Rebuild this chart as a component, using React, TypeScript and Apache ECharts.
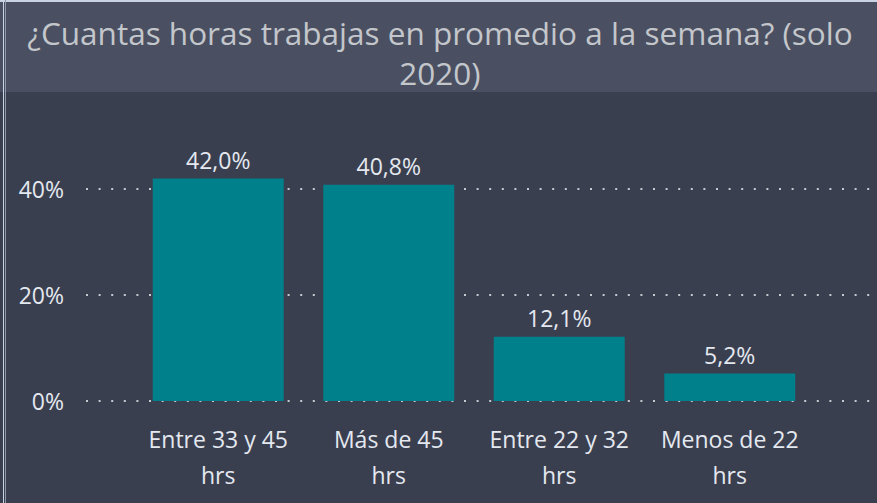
import React, { useEffect, useRef } from "react";
import * as echarts from "echarts";

const categories = ["Entre 33 y 45\nhrs", "Más de 45\nhrs", "Entre 22 y 32\nhrs", "Menos de 22\nhrs"];
const values = [42.0, 40.8, 12.1, 5.2];
const yTicks = [0, 20, 40];
const titleLines = ["¿Cuantas horas trabajas en promedio a la semana? (solo", "2020)"];

const FONT = "'Segoe UI', 'Open Sans', 'Noto Sans', sans-serif";

export default function App() {
  const ref = useRef<HTMLDivElement>(null);
  useEffect(() => {
    document.body.style.margin = "0";
    const chart = echarts.init(ref.current!, null, { renderer: "svg" });
    const yMin = yTicks[0];
    const yMax = yTicks[yTicks.length - 1];
    const yInt = yTicks[1] - yTicks[0];
    chart.setOption({
      animation: false,
      backgroundColor: "#3a3f50",
      textStyle: { fontFamily: FONT },
      graphic: [
        { type: "rect", shape: { x: 0, y: 0, width: 877, height: 92 }, style: { fill: "#4a5061" }, z: -10 },
        { type: "rect", shape: { x: 0, y: 0, width: 877, height: 2 }, style: { fill: "#c9d3e3" }, z: 10 },
        { type: "rect", shape: { x: 3, y: 0, width: 1, height: 503 }, style: { fill: "#c9d3e3" }, z: 10 },
        { type: "rect", shape: { x: 5, y: 0, width: 1, height: 503 }, style: { fill: "#8e98ab" }, z: 10 },
        {
          type: "text",
          x: 440,
          y: 12,
          style: {
            text: titleLines.join("\n"),
            fill: "#c3c6cb",
            fontSize: 31.5,
            fontFamily: FONT,
            lineHeight: 40,
            align: "center",
            verticalAlign: "top",
          },
        },
      ],
      grid: [
        { left: 86, right: 7, top: 189, height: 212 },
        { left: 133, right: 62, top: 189, height: 212 },
      ],
      xAxis: [
        { type: "category", gridIndex: 0, data: categories, show: false },
        {
          type: "category",
          gridIndex: 1,
          data: categories,
          axisLine: { show: false },
          axisTick: { show: false },
          axisLabel: {
            color: "#e4e8ef",
            fontSize: 23,
            lineHeight: 36,
            margin: 20,
            fontFamily: FONT,
            interval: 0,
          },
        },
      ],
      yAxis: [
        {
          type: "value",
          gridIndex: 0,
          min: yMin,
          max: yMax,
          interval: yInt,
          axisLine: { show: false },
          axisTick: { show: false },
          axisLabel: {
            color: "#e4e8ef",
            fontSize: 23,
            margin: 22,
            fontFamily: FONT,
            formatter: (v: number) => `${v}%`,
          },
          splitLine: { lineStyle: { color: "#c4c8cf", width: 2, type: [2, 10.6] } },
        },
        { type: "value", gridIndex: 1, min: yMin, max: yMax, interval: yInt, show: false },
      ],
      series: [
        {
          type: "bar",
          xAxisIndex: 1,
          yAxisIndex: 1,
          data: values,
          barWidth: 131,
          clip: false,
          itemStyle: { color: "#00808a" },
          label: {
            show: true,
            position: "top",
            distance: 7,
            color: "#e4e8ef",
            fontSize: 23,
            fontFamily: FONT,
            formatter: (p: any) => `${p.value.toFixed(1).replace(".", ",")}%`,
          },
        },
      ],
    });
    return () => chart.dispose();
  }, []);
  return <div ref={ref} style={{ position: "fixed", left: 0, top: 0, width: 877, height: 503 }} />;
}
